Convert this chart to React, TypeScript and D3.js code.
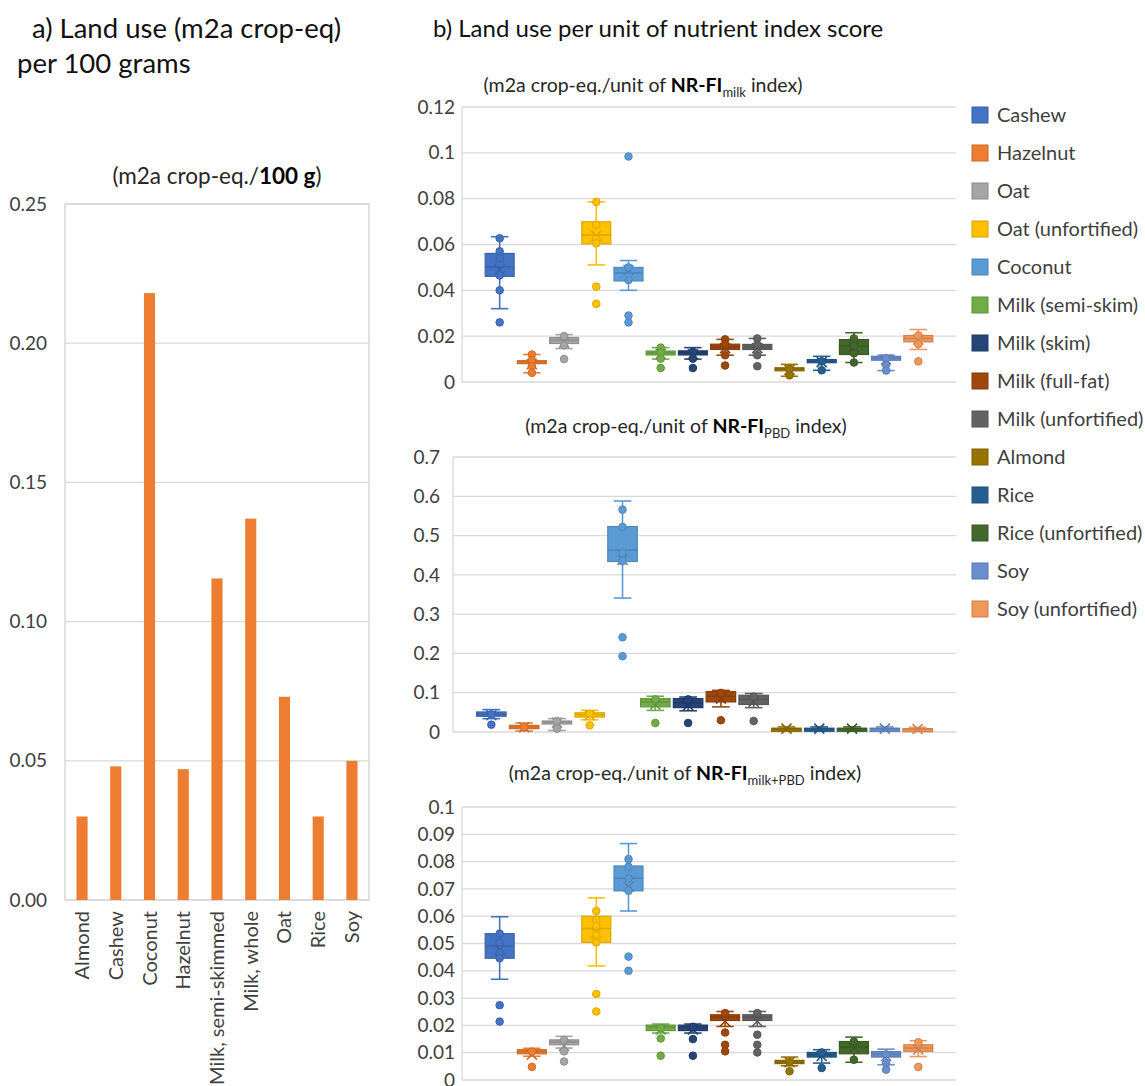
import React from 'react';
import * as d3 from 'd3';

// ---- panel a) bars ----
const barFoods = ['Almond', 'Cashew', 'Coconut', 'Hazelnut', 'Milk, semi-skimmed', 'Milk, whole', 'Oat', 'Rice', 'Soy'];
const barValues = [0.030, 0.048, 0.218, 0.047, 0.1155, 0.137, 0.073, 0.030, 0.050];
const barTicks = [0, 0.05, 0.10, 0.15, 0.20, 0.25];

// ---- panel b) box plots ----
const drinks = ['Cashew', 'Hazelnut', 'Oat', 'Oat (unfortified)', 'Coconut', 'Milk (semi-skim)', 'Milk (skim)',
  'Milk (full-fat)', 'Milk (unfortified)', 'Almond', 'Rice', 'Rice (unfortified)', 'Soy', 'Soy (unfortified)'];
const drinkColors = ['#4472C4', '#ED7D31', '#A5A5A5', '#FFC000', '#5B9BD5', '#70AD47', '#264478',
  '#9E480E', '#636363', '#997300', '#255E91', '#43682B', '#698ED0', '#F1975A'];

// [whisker low, q1, median, q3, whisker high, mean]
const milkBoxes = [
  [0.032, 0.0461, 0.0502, 0.0561, 0.0634, 0.049],
  [0.004, 0.0083, 0.0088, 0.0093, 0.012, 0.0078],
  [0.0146, 0.0168, 0.0182, 0.0194, 0.0207, 0.0172],
  [0.0511, 0.0603, 0.0641, 0.0699, 0.0786, 0.0638],
  [0.040, 0.0441, 0.0476, 0.050, 0.053, 0.0488],
  [0.010, 0.0118, 0.0127, 0.0135, 0.015, 0.0122],
  [0.010, 0.0118, 0.0127, 0.0136, 0.015, 0.0121],
  [0.0117, 0.0142, 0.0153, 0.0165, 0.0186, 0.0148],
  [0.0117, 0.0142, 0.0153, 0.0164, 0.019, 0.0148],
  [0.0025, 0.0055, 0.0058, 0.0062, 0.0077, 0.0053],
  [0.0051, 0.0084, 0.009, 0.0098, 0.0112, 0.0087],
  [0.0085, 0.012, 0.0156, 0.0185, 0.0215, 0.0152],
  [0.005, 0.0095, 0.0104, 0.0112, 0.0117, 0.0098],
  [0.0142, 0.0175, 0.019, 0.0203, 0.0229, 0.0185],
];
const milkDots = [
  [0.0627, 0.057, 0.054, 0.0465, 0.040, 0.026],
  [0.012, 0.0095, 0.007, 0.004],
  [0.020, 0.016, 0.010],
  [0.0786, 0.0686, 0.0625, 0.0605, 0.0416, 0.0341],
  [0.0984, 0.050, 0.0445, 0.029, 0.026],
  [0.015, 0.0128, 0.0102, 0.0061],
  [0.0132, 0.0102, 0.0061],
  [0.0186, 0.0164, 0.0117, 0.0072],
  [0.019, 0.0162, 0.0117, 0.0069],
  [0.0058, 0.0029],
  [0.009, 0.0051],
  [0.019, 0.0158, 0.0125, 0.0085],
  [0.0104, 0.0075, 0.005],
  [0.0203, 0.0165, 0.009],
];
const milkTicks = [0, 0.02, 0.04, 0.06, 0.08, 0.1, 0.12];

const pbdBoxes = [
  [0.034, 0.040, 0.045, 0.051, 0.057, 0.0425],
  [0.0026, 0.0085, 0.0128, 0.017, 0.023, 0.012],
  [0.004, 0.0213, 0.025, 0.028, 0.034, 0.024],
  [0.031, 0.038, 0.044, 0.049, 0.055, 0.043],
  [0.341, 0.434, 0.463, 0.523, 0.588, 0.438],
  [0.055, 0.064, 0.0765, 0.085, 0.091, 0.07],
  [0.054, 0.062, 0.074, 0.085, 0.089, 0.068],
  [0.064, 0.0765, 0.091, 0.103, 0.106, 0.085],
  [0.062, 0.070, 0.083, 0.0935, 0.098, 0.077],
  [0.004, 0.007, 0.0085, 0.0095, 0.013, 0.0085],
  [0.004, 0.007, 0.0085, 0.0095, 0.013, 0.0085],
  [0.004, 0.007, 0.0085, 0.0095, 0.013, 0.0085],
  [0.004, 0.007, 0.0085, 0.0095, 0.013, 0.0085],
  [0.003, 0.006, 0.0075, 0.0085, 0.012, 0.0075],
];
const pbdDots = [
  [0.045, 0.0187],
  [0.012],
  [0.028, 0.0085],
  [0.046, 0.017],
  [0.566, 0.522, 0.456, 0.435, 0.241, 0.193],
  [0.083, 0.023],
  [0.083, 0.023],
  [0.0995, 0.030],
  [0.09, 0.028],
  [], [], [], [], [],
];
const pbdTicks = [0, 0.1, 0.2, 0.3, 0.4, 0.5, 0.6, 0.7];

const bothBoxes = [
  [0.0369, 0.0446, 0.0491, 0.0536, 0.0598, 0.0476],
  [0.0087, 0.0096, 0.0104, 0.0111, 0.0116, 0.0093],
  [0.0117, 0.0129, 0.0139, 0.0147, 0.016, 0.0125],
  [0.0418, 0.0504, 0.0555, 0.060, 0.0667, 0.054],
  [0.0619, 0.0693, 0.0739, 0.0784, 0.0866, 0.0708],
  [0.0172, 0.0181, 0.0194, 0.0201, 0.0205, 0.0185],
  [0.0172, 0.0181, 0.0194, 0.0201, 0.0205, 0.0185],
  [0.0196, 0.0218, 0.023, 0.0239, 0.0251, 0.0215],
  [0.0196, 0.0218, 0.023, 0.0239, 0.0251, 0.0215],
  [0.0052, 0.006, 0.0066, 0.0072, 0.0084, 0.0065],
  [0.0062, 0.0084, 0.0093, 0.0101, 0.0111, 0.0088],
  [0.0065, 0.0096, 0.012, 0.0141, 0.0157, 0.0118],
  [0.0056, 0.0084, 0.0094, 0.0104, 0.0113, 0.0088],
  [0.0086, 0.0105, 0.0117, 0.0129, 0.0144, 0.0112],
];
const bothDots = [
  [0.0536, 0.0503, 0.0466, 0.0446, 0.0274, 0.0214],
  [0.0104, 0.0048],
  [0.0147, 0.0105, 0.0068],
  [0.0619, 0.0586, 0.0565, 0.0531, 0.0504, 0.0315, 0.0251],
  [0.0809, 0.0781, 0.0738, 0.0693, 0.0452, 0.040],
  [0.019, 0.0152, 0.0089],
  [0.0195, 0.015, 0.0089],
  [0.0245, 0.0174, 0.0129, 0.0105],
  [0.0245, 0.0166, 0.0129, 0.0101],
  [0.0066, 0.0032],
  [0.0101, 0.0044],
  [0.0141, 0.0074],
  [0.0094, 0.0062, 0.0038],
  [0.0138, 0.0048],
];
const bothTicks = [0, 0.01, 0.02, 0.03, 0.04, 0.05, 0.06, 0.07, 0.08, 0.09, 0.1];

const FONT = 'Lato, "Open Sans", sans-serif';
const GRID = '#D9D9D9';
const TXT = '#404040';

function BoxPanel({ boxes, dots, ticks, left, right, top, bottom, labelRight }) {
  const x = d3.scaleBand().domain(drinks).range([left, right]).paddingInner(0.1).paddingOuter(0.72);
  const y = d3.scaleLinear().domain([0, ticks[ticks.length - 1]]).range([bottom, top]);
  const bw = x.bandwidth();
  return (
    <g>
      {ticks.map(t => (
        <g key={t}>
          <line x1={left} x2={right} y1={y(t)} y2={y(t)} stroke={GRID} strokeWidth={1.3} />
          <text x={labelRight} y={y(t)} dy="0.35em" textAnchor="end" fontSize={19} fill={TXT}>{String(t)}</text>
        </g>
      ))}
      <line x1={left} x2={left} y1={top} y2={bottom} stroke={GRID} strokeWidth={1.3} />
      {drinks.map((name, i) => {
        const [lo, q1, med, q3, hi, mean] = boxes[i];
        const c = drinkColors[i];
        const dark = d3.color(c).darker(0.4).formatHex();
        const cx = x(name) + bw / 2;
        const cap = bw * 0.3;
        return (
          <g key={name}>
            <line x1={cx} x2={cx} y1={y(hi)} y2={y(lo)} stroke={c} strokeWidth={1.6} />
            <line x1={cx - cap} x2={cx + cap} y1={y(hi)} y2={y(hi)} stroke={c} strokeWidth={1.6} />
            <line x1={cx - cap} x2={cx + cap} y1={y(lo)} y2={y(lo)} stroke={c} strokeWidth={1.6} />
            <rect x={x(name)} width={bw} y={y(q3)} height={Math.max(y(q1) - y(q3), 3)}
              fill={c} stroke={dark} strokeWidth={1.2} />
            <line x1={x(name)} x2={x(name) + bw} y1={y(med)} y2={y(med)} stroke={dark} strokeWidth={1.6} />
            <path d={`M${cx - 5},${y(mean) - 5}L${cx + 5},${y(mean) + 5}M${cx - 5},${y(mean) + 5}L${cx + 5},${y(mean) - 5}`}
              stroke={dark} strokeWidth={1.6} fill="none" />
            {dots[i].map((v, j) => (
              <circle key={j} cx={cx} cy={y(v)} r={3.8} fill={c} stroke={dark} strokeWidth={1} />
            ))}
          </g>
        );
      })}
    </g>
  );
}

function SubTitle({ x, y, sub }) {
  return (
    <text x={x} y={y} textAnchor="middle" fontSize={19.5} fill="#262626">
      <tspan>(m2a crop-eq./unit of </tspan>
      <tspan fontWeight="bold" fill="#000">NR-FI</tspan>
      <tspan fontSize={13} dy={5}>{sub}</tspan>
      <tspan dy={-5}> index)</tspan>
    </text>
  );
}

export default function App() {
  const W = 1145, H = 1086;
  // left bar chart
  const bx = d3.scaleBand().domain(barFoods).range([65, 369]).paddingInner(0.67).paddingOuter(0.34);
  const by = d3.scaleLinear().domain([0, 0.25]).range([900, 204]);
  const fmt = d3.format('.2f');

  return (
    <svg width={W} height={H} style={{ display: 'block', fontFamily: FONT, background: '#fff' }}>
      <style>{'body{margin:0}'}</style>
      <text x={32} y={38} fontSize={27.5} fill="#111">a) Land use (m2a crop-eq)</text>
      <text x={17} y={73} fontSize={27.5} fill="#111">per 100 grams</text>
      <text x={433} y={37} fontSize={24} fill="#111">b) Land use per unit of nutrient index score</text>

      <text x={217} y={184} textAnchor="middle" fontSize={22.5} fill="#262626">
        <tspan>(m2a crop-eq./</tspan><tspan fontWeight="bold" fill="#000">100 g</tspan><tspan>)</tspan>
      </text>
      {barTicks.map(t => (
        <g key={t}>
          <line x1={65} x2={369} y1={by(t)} y2={by(t)} stroke={GRID} strokeWidth={1.3} />
          <text x={47} y={by(t)} dy="0.35em" textAnchor="end" fontSize={19} fill={TXT}>{fmt(t)}</text>
        </g>
      ))}
      <rect x={65} y={204} width={304} height={696} fill="none" stroke={GRID} strokeWidth={1.5} />
      {barFoods.map((f, i) => (
        <g key={f}>
          <rect x={bx(f)} width={bx.bandwidth()} y={by(barValues[i])} height={by(0) - by(barValues[i])} fill="#ED7D31" />
          <text transform={`translate(${bx(f) + bx.bandwidth() / 2},911) rotate(-90)`} dy="0.35em"
            textAnchor="end" fontSize={20} fill={TXT}>{f}</text>
        </g>
      ))}

      <SubTitle x={643} y={92} sub="milk" />
      <BoxPanel boxes={milkBoxes} dots={milkDots} ticks={milkTicks} left={462} right={956} top={107} bottom={382} labelRight={455} />

      <SubTitle x={686} y={433} sub="PBD" />
      <BoxPanel boxes={pbdBoxes} dots={pbdDots} ticks={pbdTicks} left={453} right={956} top={457} bottom={732} labelRight={440} />

      <SubTitle x={685} y={780} sub="milk+PBD" />
      <BoxPanel boxes={bothBoxes} dots={bothDots} ticks={bothTicks} left={462} right={956} top={807} bottom={1080} labelRight={455} />

      {drinks.map((d, i) => (
        <g key={d} transform={`translate(972,${115 + i * 38})`}>
          <rect x={0} y={-8} width={16} height={16} fill={drinkColors[i]} stroke={d3.color(drinkColors[i]).darker(0.5).formatHex()} strokeWidth={1} />
          <text x={25} y={0} dy="0.35em" fontSize={20} fill={TXT}>{d}</text>
        </g>
      ))}
    </svg>
  );
}
